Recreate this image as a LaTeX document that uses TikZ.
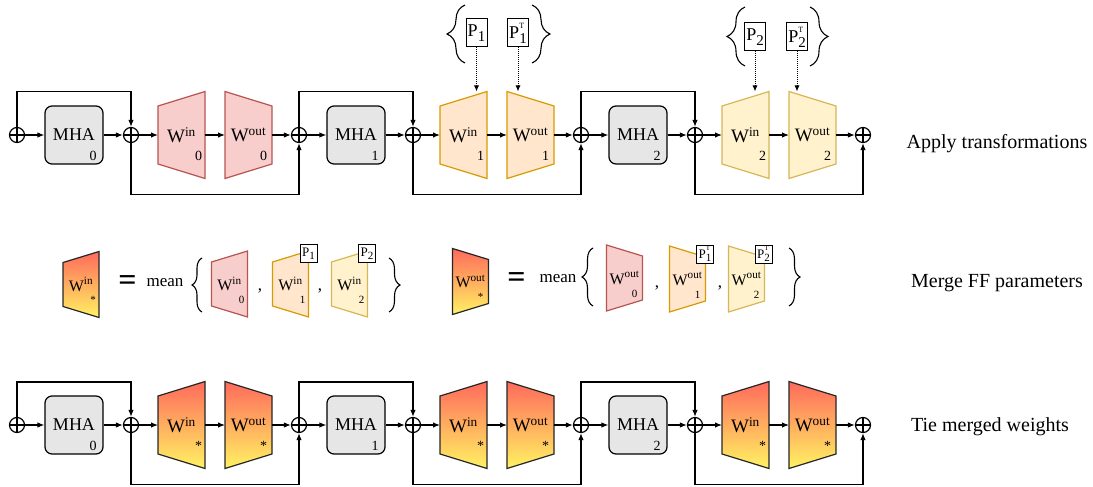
\documentclass[tikz,border=0pt]{standalone}
\usepackage{fontspec}
\setmainfont{Liberation Serif}
\usetikzlibrary{arrows.meta,positioning,calc,decorations.pathreplacing}
\definecolor{ffred}{HTML}{F8CECC}
\definecolor{ffreddraw}{HTML}{B85450}
\definecolor{fforange}{HTML}{FFE6CC}
\definecolor{fforangedraw}{HTML}{D79B00}
\definecolor{ffyellow}{HTML}{FFF2CC}
\definecolor{ffyellowdraw}{HTML}{D6B656}
\definecolor{mhagray}{HTML}{E6E6E6}
\definecolor{mergetop}{RGB}{255,104,92}
\definecolor{mergebot}{RGB}{255,244,98}

\newcommand\wfont{\fontsize{19}{22}\selectfont}
\newcommand\swfont{\fontsize{16}{18}\selectfont}
\newcommand\idxfont{\fontsize{14}{16}\selectfont}
\newcommand\sidxfont{\fontsize{11}{12}\selectfont}
\newcommand\labfont{\fontsize{20}{24}\selectfont}
% trapezoid inside the node box: left inset, right inset, look
\newcommand\trapshape[3]{%
  \path[#3] ([shift={(1pt,#1+1pt)}]path picture bounding box.south west)
    -- ([shift={(1pt,-#1-1pt)}]path picture bounding box.north west)
    -- ([shift={(-1pt,-#2-1pt)}]path picture bounding box.north east)
    -- ([shift={(-1pt,#2+1pt)}]path picture bounding box.south east) -- cycle;}
\newcommand\cornidx[4]{%
  \node[anchor=base, font=#3] at ([shift={(#1,#2)}]path picture bounding box.center) {#4};}
% P with index (and optional T)
\newcommand\pbig[2]{P\rlap{\raisebox{10pt}{\fontsize{8}{8}\selectfont #2}}\raisebox{-5pt}{\fontsize{15}{15}\selectfont #1}}
\newcommand\psmall[2]{P\rlap{\raisebox{7.5pt}{\fontsize{7}{7}\selectfont #2}}\raisebox{-3.5pt}{\fontsize{11}{11}\selectfont #1}}

\begin{document}
\begin{tikzpicture}[x=1pt, y=-1pt,
  trapred/.style={fill=ffred, draw=ffreddraw, line width=1.2pt},
  trapor/.style={fill=fforange, draw=fforangedraw, line width=1.2pt},
  trapye/.style={fill=ffyellow, draw=ffyellowdraw, line width=1.2pt},
  trapmerge/.style={top color=mergetop, bottom color=mergebot, draw=black!85, line width=1.2pt},
  ffbase/.style={rectangle, inner sep=0pt, outer sep=-1pt},
  ffin/.style 2 args={ffbase, minimum width=49pt, minimum height=89pt, font=\wfont,
    path picture={\trapshape{14.5pt}{0pt}{#1}\cornidx{17pt}{-25pt}{\idxfont}{#2}}},
  ffout/.style 2 args={ffbase, minimum width=49pt, minimum height=89pt, font=\wfont,
    path picture={\trapshape{0pt}{14.5pt}{#1}\cornidx{15pt}{-25pt}{\idxfont}{#2}}},
  sffin/.style 2 args={ffbase, minimum width=38pt, minimum height=68pt, font=\swfont,
    path picture={\trapshape{11pt}{0pt}{#1}\cornidx{12pt}{-19pt}{\sidxfont}{#2}}},
  sffout/.style 2 args={ffbase, minimum width=38pt, minimum height=68pt, font=\swfont,
    path picture={\trapshape{0pt}{11pt}{#1}\cornidx{10pt}{-19pt}{\sidxfont}{#2}}},
  mha/.style={draw, line width=1.2pt, rounded corners=7pt, fill=mhagray,
    minimum width=58pt, minimum height=58pt, inner sep=0pt, font=\fontsize{18}{20}\selectfont,
    path picture={\cornidx{19pt}{-25pt}{\idxfont}{#1}}},
  oplus/.style={circle, draw, line width=1.2pt, minimum size=15pt, inner sep=0pt,
    path picture={\draw[line width=1.2pt] (path picture bounding box.north) -- (path picture bounding box.south)
      (path picture bounding box.west) -- (path picture bounding box.east);}},
  pbox/.style={draw, line width=1pt, fill=white, minimum width=21pt, minimum height=28pt,
    inner sep=0pt, font=\fontsize{18}{20}\selectfont},
  spbox/.style={draw, line width=0.9pt, fill=white, minimum width=17pt, minimum height=18pt,
    inner sep=1pt, font=\fontsize{13}{15}\selectfont},
  arr/.style={-{Latex[length=7pt,width=5.5pt]}, line width=1.2pt},
  parr/.style={-{Latex[length=6pt,width=5pt]}, line width=1pt, dash pattern=on 1pt off 1pt},
  brc/.style={decorate, decoration={brace, amplitude=#1}, line width=1.1pt},
  rowlabel/.style={font=\labfont},
]
\useasboundingbox (0,0) rectangle (1093,487);

%% -- Row 1: apply transformations --------------------------------------
\node[oplus] (a0) at (17,135) {};
\node[mha=0] (m0) at (74,135) {MHA};
\node[oplus] (b0) at (131,135) {};
\node[ffin={trapred}{0}] (wi0) at (181.5,135) {W\textsuperscript{in}};
\node[ffout={trapred}{0}] (wo0) at (248.5,135) {W\textsuperscript{out}};
\node[oplus] (a1) at (299,135) {};
\node[mha=1] (m1) at (356,135) {MHA};
\node[oplus] (b1) at (413,135) {};
\node[ffin={trapor}{1}] (wi1) at (463.5,135) {W\textsuperscript{in}};
\node[ffout={trapor}{1}] (wo1) at (530.5,135) {W\textsuperscript{out}};
\node[oplus] (a2) at (581,135) {};
\node[mha=2] (m2) at (638,135) {MHA};
\node[oplus] (b2) at (695,135) {};
\node[ffin={trapye}{2}] (wi2) at (745.5,135) {W\textsuperscript{in}};
\node[ffout={trapye}{2}] (wo2) at (812.5,135) {W\textsuperscript{out}};
\node[oplus] (a3) at (863,135) {};

\draw[arr] (a0) -- (m0);  \draw[arr] (m0) -- (b0);  \draw[arr] (b0) -- (wi0);
\draw[arr] (wi0) -- (wo0); \draw[arr] (wo0) -- (a1);
\draw[arr] (a1) -- (m1);  \draw[arr] (m1) -- (b1);  \draw[arr] (b1) -- (wi1);
\draw[arr] (wi1) -- (wo1); \draw[arr] (wo1) -- (a2);
\draw[arr] (a2) -- (m2);  \draw[arr] (m2) -- (b2);  \draw[arr] (b2) -- (wi2);
\draw[arr] (wi2) -- (wo2); \draw[arr] (wo2) -- (a3);
% residual loops
\draw[arr] (a0.north) -- ++(0,-35) -| (b0.north);
\draw[arr] (a1.north) -- ++(0,-35) -| (b1.north);
\draw[arr] (a2.north) -- ++(0,-35) -| (b2.north);
\draw[arr] (b0.south) -- ++(0,51) -| (a1.south);
\draw[arr] (b1.south) -- ++(0,51) -| (a2.south);
\draw[arr] (b2.south) -- ++(0,51) -| (a3.south);

% permutations
\node[pbox] (p1) at (476.5,33) {\pbig{1}{}};
\node[pbox] (p1t) at (518,33) {\pbig{1}{T}};
\node[pbox] (p2) at (755,37) {\pbig{2}{}};
\node[pbox] (p2t) at (797,37) {\pbig{2}{T}};
\draw[parr] (p1) -- (p1 |- wi1.north);
\draw[parr] (p1t) -- (p1t |- wo1.north);
\draw[parr] (p2) -- (p2 |- wi2.north);
\draw[parr] (p2t) -- (p2t |- wo2.north);
\draw[brc=18pt] (465,63) -- (465,5);
\draw[brc=18pt] (532,5) -- (532,63);
\draw[brc=18pt] (745,66) -- (745,7);
\draw[brc=18pt] (810,7) -- (810,66);

%% -- Row 2: merge FF parameters ----------------------------------------
\node[sffin={trapmerge}{*}] (msin) at (81,284.5) {W\textsuperscript{in}};
\node[font=\fontsize{32}{32}\selectfont\bfseries] (eqin) at (127.5,283) {=};
\node[font=\fontsize{17}{20}\selectfont] (meanin) at (165,283) {mean};
\node[sffin={trapred}{0}] (swi0) at (229.5,284) {W\textsuperscript{in}};
\node[sffin={trapor}{1}] (swi1) at (290.5,284) {W\textsuperscript{in}};
\node[sffin={trapye}{2}] (swi2) at (349.5,284) {W\textsuperscript{in}};
\node[spbox] (sp1) at (308.5,253.5) {\psmall{1}{}};
\node[spbox] (sp2) at (367,253.5) {\psmall{2}{}};
\node[font=\fontsize{17}{20}\selectfont, anchor=base] (cin1) at (260,290) {,};
\node[font=\fontsize{17}{20}\selectfont, anchor=base] (cin2) at (320,290) {,};
\draw[brc=10pt] (202,312) -- (202,258);
\draw[brc=11pt] (389,258) -- (389,312);

\node[sffout={trapmerge}{*}] (msout) at (470.5,281.5) {W\textsuperscript{out}};
\node[font=\fontsize{32}{32}\selectfont\bfseries] (eqout) at (516.5,280) {=};
\node[font=\fontsize{17}{20}\selectfont] (meanout) at (558,279) {mean};
\node[sffout={trapred}{0}] (swo0) at (624.5,278) {W\textsuperscript{out}};
\node[sffout={trapor}{1}] (swo1) at (687.5,279) {W\textsuperscript{out}};
\node[sffout={trapye}{2}] (swo2) at (746.5,279) {W\textsuperscript{out}};
\node[spbox] (sp1t) at (705,254) {\psmall{1}{T}};
\node[spbox] (sp2t) at (763.5,254) {\psmall{2}{T}};
\node[font=\fontsize{17}{20}\selectfont, anchor=base] (cout1) at (657,287) {,};
\node[font=\fontsize{17}{20}\selectfont, anchor=base] (cout2) at (720,287) {,};
\draw[brc=11pt] (593,306) -- (593,248);
\draw[brc=11pt] (789,248) -- (789,306);

%% -- Row 3: tie merged weights -----------------------------------------
\node[oplus] (ta0) at (17,425) {};
\node[mha=0] (tm0) at (74,425) {MHA};
\node[oplus] (tb0) at (131,425) {};
\node[ffin={trapmerge}{*}] (twi0) at (181.5,425) {W\textsuperscript{in}};
\node[ffout={trapmerge}{*}] (two0) at (248.5,425) {W\textsuperscript{out}};
\node[oplus] (ta1) at (299,425) {};
\node[mha=1] (tm1) at (356,425) {MHA};
\node[oplus] (tb1) at (413,425) {};
\node[ffin={trapmerge}{*}] (twi1) at (463.5,425) {W\textsuperscript{in}};
\node[ffout={trapmerge}{*}] (two1) at (530.5,425) {W\textsuperscript{out}};
\node[oplus] (ta2) at (581,425) {};
\node[mha=2] (tm2) at (638,425) {MHA};
\node[oplus] (tb2) at (695,425) {};
\node[ffin={trapmerge}{*}] (twi2) at (745.5,425) {W\textsuperscript{in}};
\node[ffout={trapmerge}{*}] (two2) at (812.5,425) {W\textsuperscript{out}};
\node[oplus] (ta3) at (863,425) {};

\draw[arr] (ta0) -- (tm0);  \draw[arr] (tm0) -- (tb0);  \draw[arr] (tb0) -- (twi0);
\draw[arr] (twi0) -- (two0); \draw[arr] (two0) -- (ta1);
\draw[arr] (ta1) -- (tm1);  \draw[arr] (tm1) -- (tb1);  \draw[arr] (tb1) -- (twi1);
\draw[arr] (twi1) -- (two1); \draw[arr] (two1) -- (ta2);
\draw[arr] (ta2) -- (tm2);  \draw[arr] (tm2) -- (tb2);  \draw[arr] (tb2) -- (twi2);
\draw[arr] (twi2) -- (two2); \draw[arr] (two2) -- (ta3);
\draw[arr] (ta0.north) -- ++(0,-35) -| (tb0.north);
\draw[arr] (ta1.north) -- ++(0,-35) -| (tb1.north);
\draw[arr] (ta2.north) -- ++(0,-35) -| (tb2.north);
\draw[arr] (tb0.south) -- ++(0,51) -| (ta1.south);
\draw[arr] (tb1.south) -- ++(0,51) -| (ta2.south);
\draw[arr] (tb2.south) -- ++(0,51) -| (ta3.south);

%% -- Row labels ----------------------------------------------------------
\node[rowlabel] (lab1) at (997,144) {Apply transformations};
\node[rowlabel] (lab2) at (997,283) {Merge FF parameters};
\node[rowlabel] (lab3) at (990,427) {Tie merged weights};
\end{tikzpicture}
\end{document}
